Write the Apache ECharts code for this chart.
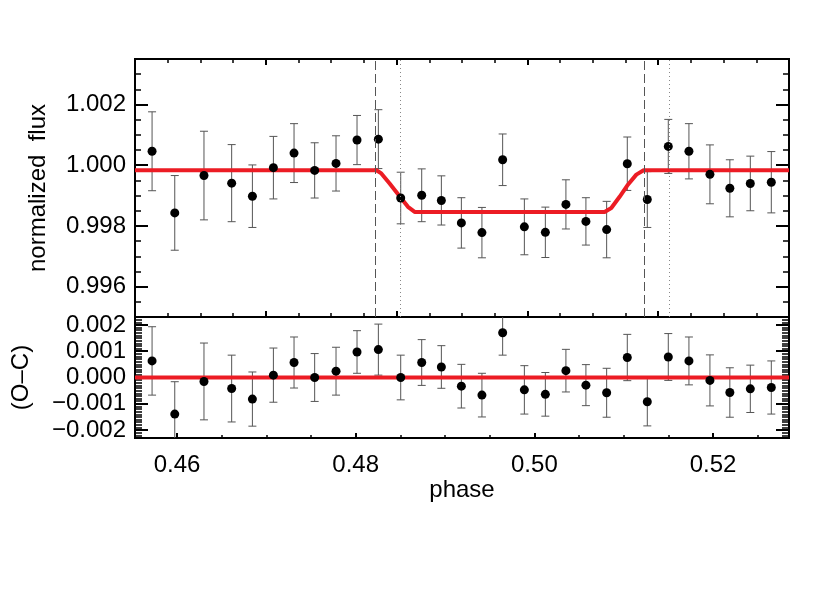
<!DOCTYPE html>
<html>
<head>
<meta charset="utf-8">
<title>transit light curve</title>
<script src="https://cdn.jsdelivr.net/npm/echarts@6/dist/echarts.min.js"></script>
<style>
	html,body{margin:0;padding:0;background:#fff;}
	#chart{width:830px;height:593px;}
</style>
</head>
<body>
<div id="chart"></div>
<script>
var phase=[0.45721,0.45975,0.46302,0.46612,0.46844,0.47079,0.47310,0.47541,0.47780,0.48015,
	0.48254,0.48504,0.48739,0.48959,0.49183,0.49413,0.49645,0.49888,0.50123,0.50353,
	0.50577,0.50809,0.51040,0.51264,0.51499,0.51730,0.51965,0.52188,0.52417,0.52652];
var flux=[1.00046,0.99843,0.99966,0.99941,0.99898,0.99992,1.00040,0.99983,1.00006,1.00083,
	1.00086,0.99892,0.99901,0.99884,0.99810,0.99778,1.00018,0.99797,0.99779,0.99871,
	0.99815,0.99788,1.00005,0.99887,1.00062,1.00046,0.99970,0.99924,0.99940,0.99944];
var fluxErr=[0.00130,0.00123,0.00146,0.00127,0.00103,0.00103,0.00097,0.00091,0.00091,0.00081,
	0.00097,0.00085,0.00087,0.00081,0.00083,0.00083,0.00085,0.00092,0.00083,0.00081,
	0.00078,0.00093,0.00088,0.00092,0.00089,0.00091,0.00097,0.00094,0.00090,0.00101];
var resid=[0.00063,-0.00139,-0.00015,-0.00042,-0.00082,0.00009,0.00057,0.00000,0.00024,0.00097,
	0.00106,0.00000,0.00057,0.00040,-0.00033,-0.00067,0.00170,-0.00047,-0.00064,0.00026,
	-0.00029,-0.00058,0.00076,-0.00092,0.00078,0.00063,-0.00011,-0.00057,-0.00043,-0.00038];
// fitted transit model
var modelPhase=[0.4553,0.48232,0.48287,0.48380,0.48492,0.48585,0.48660,
	0.50786,0.50861,0.50954,0.51047,0.51141,0.51223,0.5285];
var modelFlux=[0.999835,0.999835,0.99973,0.99940,0.99898,0.99863,0.998462,
	0.998462,0.99859,0.99896,0.99936,0.99969,0.999835,0.999835];
// O-C zero line
var ocPhase=[0.4553,0.5285];
var ocZero=[0,0];
// contact markers
var dashedPhase=[0.48216,0.51226];
var dottedPhase=[0.48500,0.51506];
// axis ranges
var phaseRange=[0.4553,0.5285];
var fluxRange=[0.995,1.0035];
var ocRange=[-0.0023,0.0023];

var FONT='Liberation Sans';
var RED='#ec1c24';

function pairs(xs,ys,es){
	return xs.map(function(x,i){
		return es?[x,ys[i],es[i]]:[x,ys[i]];
	});
}

function errorBar(params,api){
	var x=api.value(0),y=api.value(1),e=api.value(2);
	var hi=api.coord([x,y+e]);
	var lo=api.coord([x,y-e]);
	var cap=4;
	var style={stroke:'#555',lineWidth:1};
	return {type:'group',children:[
		{type:'line',shape:{x1:hi[0],y1:hi[1],x2:lo[0],y2:lo[1]},style:style},
		{type:'line',shape:{x1:hi[0]-cap,y1:hi[1],x2:hi[0]+cap,y2:hi[1]},style:style},
		{type:'line',shape:{x1:lo[0]-cap,y1:lo[1],x2:lo[0]+cap,y2:lo[1]},style:style}
	]};
}

function ticks(major,minor,split){
	return {
		axisTick:{show:true,inside:true,length:major,lineStyle:{color:'#000',width:2}},
		minorTick:{show:true,splitNumber:split,length:minor,lineStyle:{color:'#000',width:1.5}}
	};
}

function axis(base,extra){
	var o={axisLine:{show:false,onZero:false},splitLine:{show:false},minorSplitLine:{show:false}};
	Object.keys(base).forEach(function(k){o[k]=base[k];});
	Object.keys(extra).forEach(function(k){o[k]=extra[k];});
	return o;
}

var labelStyle={fontFamily:FONT,fontSize:24,color:'#000'};

var myChart=echarts.init(document.getElementById('chart'));
var option={
	animation:false,
	backgroundColor:'#fff',
	grid:[
		{left:135,top:59,width:654,height:258,show:true,borderColor:'#000',borderWidth:2,outerBoundsMode:'none'},
		{left:135,top:317,width:654,height:121,show:true,borderColor:'#000',borderWidth:2,outerBoundsMode:'none'}
	],
	xAxis:[
		// top panel data axis
		{type:'value',gridIndex:0,min:phaseRange[0],max:phaseRange[1],show:false},
		// top panel frame ticks (top and bottom)
		axis(ticks(6,4,4),{type:'value',gridIndex:0,position:'top',min:0,max:5,interval:1,axisLabel:{show:false}}),
		axis(ticks(6,4,4),{type:'value',gridIndex:0,position:'bottom',min:0,max:5,interval:1,axisLabel:{show:false}}),
		// O-C panel phase axis
		axis(ticks(5,3,4),{type:'value',gridIndex:1,position:'bottom',min:phaseRange[0],max:phaseRange[1],splitNumber:4,
			name:'phase',nameLocation:'middle',nameGap:40,nameTextStyle:labelStyle,
			axisLabel:{margin:15,showMinLabel:false,showMaxLabel:false,fontFamily:FONT,fontSize:24,color:'#000',
				formatter:function(v){return v.toFixed(2);}}})
	],
	yAxis:[
		axis(ticks(13,6,4),{type:'value',gridIndex:0,position:'left',min:fluxRange[0],max:fluxRange[1],splitNumber:5,
			name:'normalized  flux',nameLocation:'middle',nameGap:85,nameTextStyle:labelStyle,
			axisLabel:{margin:9,showMinLabel:false,showMaxLabel:false,fontFamily:FONT,fontSize:24,color:'#000',
				formatter:function(v){return v.toFixed(3);}}}),
		axis(ticks(13,6,4),{type:'value',gridIndex:0,position:'right',min:fluxRange[0],max:fluxRange[1],splitNumber:5,
			axisLabel:{show:false}}),
		axis(ticks(13,7,10),{type:'value',gridIndex:1,position:'left',min:ocRange[0],max:ocRange[1],splitNumber:5,
			name:'(O–C)',nameLocation:'middle',nameGap:102,nameTextStyle:labelStyle,
			axisLabel:{margin:9,showMinLabel:false,showMaxLabel:false,fontFamily:FONT,fontSize:24,color:'#000',
				formatter:function(v){return v.toFixed(3).replace('-','\u2212');}}}),
		axis(ticks(13,7,10),{type:'value',gridIndex:1,position:'right',min:ocRange[0],max:ocRange[1],splitNumber:5,
			axisLabel:{show:false}})
	],
	series:[
		{
			type:'line',xAxisIndex:0,yAxisIndex:0,data:[],z:1,silent:true,
			markLine:{
				symbol:'none',silent:true,precision:6,label:{show:false},
				data:dashedPhase.map(function(p){
					return {xAxis:p,lineStyle:{color:'#555',width:1,type:[9,4]}};
				}).concat(dottedPhase.map(function(p){
					return {xAxis:p,lineStyle:{color:'#888',width:1,type:[1,3]}};
				}))
			}
		},
		{
			type:'custom',xAxisIndex:0,yAxisIndex:0,z:2,clip:true,silent:true,
			renderItem:errorBar,data:pairs(phase,flux,fluxErr)
		},
		{
			type:'line',xAxisIndex:0,yAxisIndex:0,z:3,showSymbol:false,silent:true,
			lineStyle:{color:RED,width:4,join:'round'},data:pairs(modelPhase,modelFlux)
		},
		{
			type:'scatter',xAxisIndex:0,yAxisIndex:0,z:4,symbolSize:9,silent:true,
			itemStyle:{color:'#000',opacity:1},data:pairs(phase,flux)
		},
		{
			type:'custom',xAxisIndex:3,yAxisIndex:2,z:2,clip:true,silent:true,
			renderItem:errorBar,data:pairs(phase,resid,fluxErr)
		},
		{
			type:'line',xAxisIndex:3,yAxisIndex:2,z:3,showSymbol:false,silent:true,
			lineStyle:{color:RED,width:4},data:pairs(ocPhase,ocZero)
		},
		{
			type:'scatter',xAxisIndex:3,yAxisIndex:2,z:4,symbolSize:9,silent:true,
			itemStyle:{color:'#000',opacity:1},data:pairs(phase,resid)
		}
	]
};
myChart.setOption(option);
</script>
</body>
</html>
